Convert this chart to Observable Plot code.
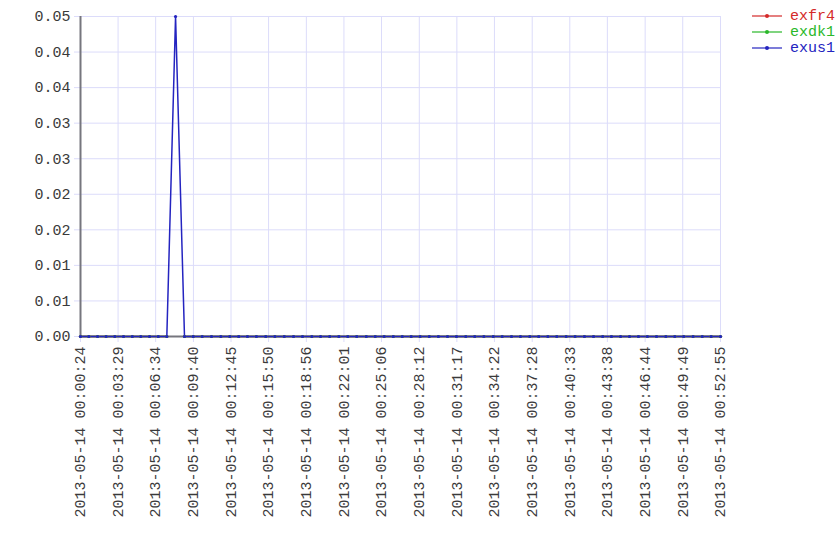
<!DOCTYPE html>
<html>
<head>
<meta charset="utf-8">
<script src="https://cdn.jsdelivr.net/npm/d3@7"></script>
<script src="https://cdn.jsdelivr.net/npm/@observablehq/plot@0.6"></script>
<style>
  html, body { margin: 0; padding: 0; background: #fff; }
  #wrap { position: relative; width: 840px; height: 560px; }
  #legend { position: absolute; left: 752px; top: 8px; font-family: "Liberation Mono", monospace; font-size: 15px; }
  .item { display: flex; align-items: center; height: 16px; }
  .sw { position: relative; width: 30px; height: 16px; margin-right: 8px; }
  .sw .ln { position: absolute; left: 0; right: 0; top: 7px; height: 2px; opacity: 0.6; }
  .sw .dt { position: absolute; left: 13px; top: 6px; width: 4px; height: 4px; border-radius: 2px; }
</style>
</head>
<body>
<div id="wrap"><div id="legend"></div></div>
<script>
const day = "2013-05-14";
const times = [
  "00:00:24","00:01:05","00:01:48","00:02:30","00:03:13","00:03:56","00:04:39","00:05:21",
  "00:06:04","00:06:47","00:07:29","00:08:12","00:08:56","00:09:39","00:10:23","00:11:09",
  "00:11:55","00:12:39","00:13:23","00:14:06","00:14:50","00:15:36","00:16:21","00:17:07",
  "00:17:53","00:18:37","00:19:23","00:20:06","00:20:51","00:21:36","00:22:20","00:23:04",
  "00:23:51","00:24:35","00:25:19","00:26:04","00:26:48","00:27:32","00:28:16","00:29:01",
  "00:29:46","00:30:31","00:31:15","00:32:01","00:32:45","00:33:30","00:34:16","00:35:00",
  "00:35:46","00:36:30","00:37:16","00:38:00","00:38:45","00:39:29","00:40:15","00:40:59",
  "00:41:45","00:42:30","00:43:15","00:43:58","00:44:43","00:45:27","00:46:11","00:46:55",
  "00:47:40","00:48:26","00:49:10","00:49:54","00:50:40","00:51:25","00:52:09","00:52:55"
];
const exfr4 = [0,0,0,0,0,0,0,0,0,0,0,null,0,0,0,0,0,0,0,0,0,0,0,0,0,0,0,0,0,0,0,0,0,0,0,0,0,0,0,0,0,0,0,0,0,0,0,0,0,0,0,0,0,0,0,0,0,0,0,0,0,0,0,0,0,0,0,0,0,0,0,0];
const exdk1 = [0,0,0,0,0,0,0,0,0,0,0,null,0,0,0,0,0,0,0,0,0,0,0,0,0,0,0,0,0,0,0,0,0,0,0,0,0,0,0,0,0,0,0,0,0,0,0,0,0,0,0,0,0,0,0,0,0,0,0,0,0,0,0,0,0,0,0,0,0,0,0,0];
const exus1 = [0,0,0,0,0,0,0,0,0,0,0,0.05,0,0,0,0,0,0,0,0,0,0,0,0,0,0,0,0,0,0,0,0,0,0,0,0,0,0,0,0,0,0,0,0,0,0,0,0,0,0,0,0,0,0,0,0,0,0,0,0,0,0,0,0,0,0,0,0,0,0,0,0];
const seriesNames = ["exfr4", "exdk1", "exus1"];
const seriesColors = ["#d42a2a", "#2ab82a", "#2424c0"];
const xTickLabels = [
  "00:00:24","00:03:29","00:06:34","00:09:40","00:12:45","00:15:50","00:18:56","00:22:01","00:25:06",
  "00:28:12","00:31:17","00:34:22","00:37:28","00:40:33","00:43:38","00:46:44","00:49:49","00:52:55"
];
const yMax = 0.05;
const yTickCount = 10;

const parse = t => new Date(`${day}T${t}Z`);
const seriesVals = [exfr4, exdk1, exus1];
const data = [];
seriesNames.forEach((name, si) => {
  times.forEach((t, i) => data.push({series: name, time: parse(t), value: seriesVals[si][i]}));
});
const xTicks = xTickLabels.map(parse);
const yTicks = d3.range(yTickCount).map(i => i * yMax / (yTickCount - 1));
const fmtX = d3.utcFormat("%Y-%m-%d %H:%M:%S");
const grid = "#dcdcfa";
const font = "'Liberation Mono', monospace";

const chart = Plot.plot({
  width: 840,
  height: 560,
  marginLeft: 80,
  marginRight: 120,
  marginTop: 16,
  marginBottom: 224,
  style: {fontFamily: font, fontSize: "15px", background: "#fff"},
  x: {type: "utc", domain: [xTicks[0], xTicks[xTicks.length - 1]]},
  y: {domain: [0, yMax]},
  color: {domain: seriesNames, range: seriesColors},
  marks: [
    Plot.gridX(xTicks, {stroke: grid, strokeOpacity: 1}),
    Plot.gridY(yTicks, {stroke: grid, strokeOpacity: 1}),
    Plot.axisY(yTicks, {tickFormat: d3.format(".2f"), tickSize: 6, tickPadding: 4, stroke: grid, strokeOpacity: 1, fill: "#3a3a3a", label: null}),
    Plot.axisX(xTicks, {tickFormat: fmtX, tickRotate: -90, tickSize: 6, tickPadding: 4, stroke: grid, strokeOpacity: 1, fill: "#3a3a3a", label: null, style: {letterSpacing: "0.75px"}}),
    Plot.ruleX([xTicks[0]], {stroke: "#76767e", strokeWidth: 2}),
    Plot.ruleY([0], {stroke: "#76767e", strokeWidth: 2}),
    Plot.line(data, {x: "time", y: "value", z: "series", stroke: "series", strokeWidth: 1.5}),
    Plot.dot(data.filter(d => d.value != null), {x: "time", y: "value", fill: "series", r: 1.6, stroke: null})
  ]
});
document.getElementById("wrap").prepend(chart);

const legend = document.getElementById("legend");
seriesNames.forEach((name, i) => {
  const item = document.createElement("div");
  item.className = "item";
  item.innerHTML = `<span class="sw"><span class="ln" style="background:${seriesColors[i]}"></span><span class="dt" style="background:${seriesColors[i]}"></span></span><span style="color:${seriesColors[i]}">${name}</span>`;
  legend.appendChild(item);
});
</script>
</body>
</html>
